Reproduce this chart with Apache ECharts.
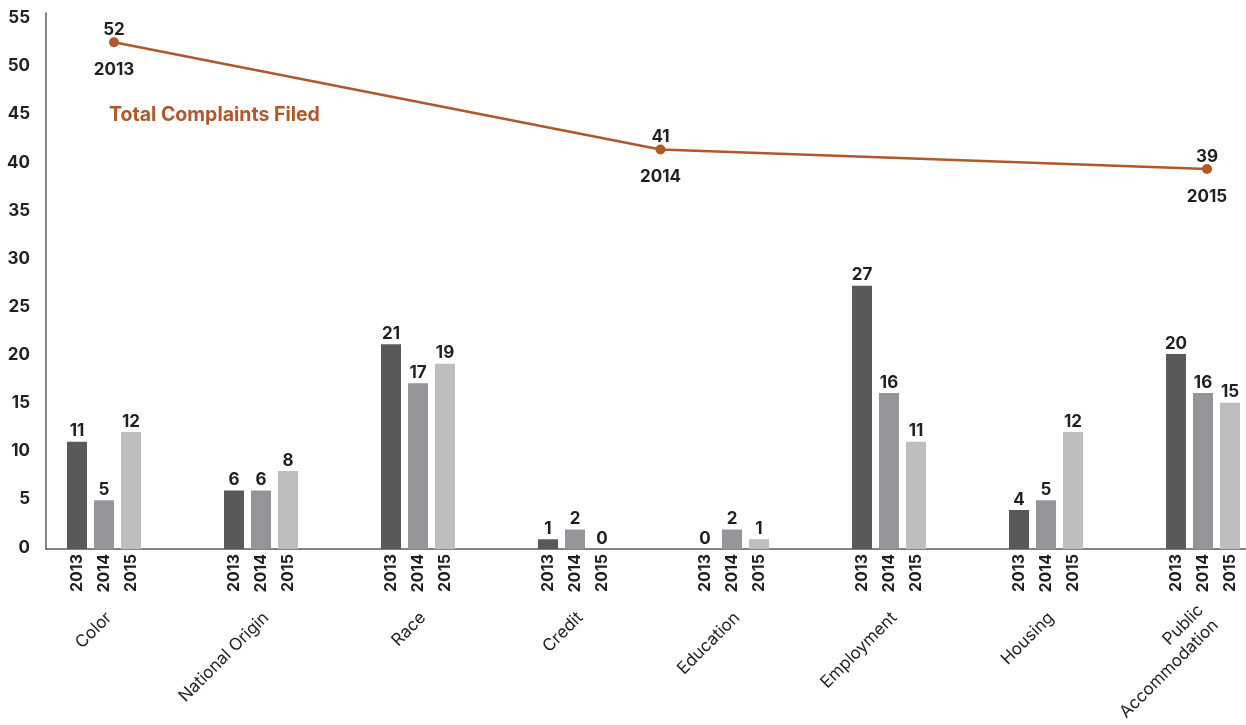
<!DOCTYPE html>
<html>
<head>
<meta charset="utf-8">
<script src="https://cdn.jsdelivr.net/npm/echarts@6/dist/echarts.min.js"></script>
<style>
  html, body { margin: 0; padding: 0; background: #fff; }
  #chart { width: 1246px; height: 725px; }
</style>
</head>
<body>
<div id="chart"></div>
<script>
const categories = ['Color', 'National Origin', 'Race', 'Credit', 'Education', 'Employment', 'Housing', 'Public\nAccommodation'];
const years = ['2013', '2014', '2015'];
const values2013 = [11, 6, 21, 1, 0, 27, 4, 20];
const values2014 = [5, 6, 17, 2, 2, 16, 5, 16];
const values2015 = [12, 8, 19, 0, 1, 11, 12, 15];
const totalComplaints = [52, 41, 39];
const yTicks = { min: 0, max: 55, interval: 5 };

const barColors = ['#58595B', '#939598', '#BCBEC0'];
const rust = '#B0582A';
const dark = '#231F20';
const numFont = 'Inter, "DejaVu Sans", sans-serif';

const chart = echarts.init(document.getElementById('chart'));

const seriesValues = [values2013, values2014, values2015];
const barSeries = seriesValues.map((vals, i) => ({
  type: 'bar',
  name: years[i],
  xAxisIndex: 0, yAxisIndex: 0,
  data: vals,
  barWidth: 20,
  barGap: '35%',
  itemStyle: { color: barColors[i] },
  label: {
    show: true, position: 'top', distance: 2,
    color: dark, fontFamily: numFont, fontWeight: 700, fontSize: 17
  },
  silent: true
}));
const yearLabelSeries = seriesValues.map((vals, i) => ({
  type: 'bar',
  name: years[i] + '-label',
  xAxisIndex: 1, yAxisIndex: 0,
  data: vals,
  barWidth: 20,
  barGap: '35%',
  itemStyle: { color: 'rgba(0,0,0,0)' },
  label: {
    show: true, position: 'bottom', distance: 5,
    rotate: 90, align: 'right', verticalAlign: 'middle',
    formatter: () => years[i],
    color: dark, fontFamily: numFont, fontWeight: 700, fontSize: 16
  },
  silent: true
}));

const gridBase = { top: 13, height: 536, outerBoundsMode: 'none', containLabel: false };

const option = {
  backgroundColor: '#fff',
  animation: false,
  title: {
    text: 'Total Complaints Filed',
    left: 104, top: 100,
    textStyle: { color: rust, fontFamily: numFont, fontWeight: 700, fontSize: 19.5 }
  },
  grid: [
    Object.assign({}, gridBase, { left: 25.5, width: 1256 }),
    Object.assign({}, gridBase, { left: 114, width: 1093 }),
    Object.assign({}, gridBase, { left: 46, width: 1200 }),
    Object.assign({}, gridBase, { left: 30.5, width: 1256 }),
    Object.assign({}, gridBase, { left: 46, width: 1200, top: 18, height: 529.5 })
  ],
  xAxis: [
    { type: 'category', gridIndex: 0, data: categories, show: false },
    { type: 'category', gridIndex: 0, data: categories, show: false },
    { type: 'category', gridIndex: 1, data: years, boundaryGap: false, show: false },
    { type: 'value', gridIndex: 2, min: 0, max: 1,
      axisLine: { show: true, onZero: false, lineStyle: { color: '#58595B', width: 1.5 } },
      axisTick: { show: false }, axisLabel: { show: false }, splitLine: { show: false } },
    { type: 'category', gridIndex: 3, data: categories,
      axisLine: { show: false }, axisTick: { show: false }, splitLine: { show: false },
      axisLabel: { rotate: 45, margin: 66, fontSize: 17, color: dark,
        fontFamily: 'Inter, "Open Sans", sans-serif', lineHeight: 21, interval: 0 } },
    { type: 'value', gridIndex: 4, show: false }
  ],
  yAxis: [
    { type: 'value', gridIndex: 0, min: yTicks.min, max: yTicks.max, interval: yTicks.interval, show: false },
    { type: 'value', gridIndex: 1, min: yTicks.min, max: yTicks.max, interval: yTicks.interval, show: false },
    { type: 'value', gridIndex: 2, min: yTicks.min, max: yTicks.max, interval: yTicks.interval,
      axisLine: { show: true, lineStyle: { color: '#58595B', width: 1.5 } },
      axisTick: { show: false }, splitLine: { show: false }, axisLabel: { show: false } },
    { type: 'value', gridIndex: 3, min: yTicks.min, max: yTicks.max, show: false },
    { type: 'value', gridIndex: 4, min: yTicks.min, max: yTicks.max, interval: yTicks.interval,
      axisLine: { show: false }, axisTick: { show: false }, splitLine: { show: false },
      axisLabel: { margin: 16, color: dark, fontFamily: numFont, fontWeight: 700, fontSize: 17 } }
  ],
  series: [
    ...barSeries,
    ...yearLabelSeries,
    {
      type: 'line', name: 'Total Complaints Filed',
      xAxisIndex: 2, yAxisIndex: 1,
      data: totalComplaints,
      symbol: 'circle', symbolSize: 10,
      lineStyle: { color: rust, width: 2.5 },
      itemStyle: { color: rust },
      label: { show: true, position: 'top', distance: -1,
        color: dark, fontFamily: numFont, fontWeight: 700, fontSize: 17 },
      silent: true, z: 5
    },
    {
      type: 'line', name: 'year-labels',
      xAxisIndex: 2, yAxisIndex: 1,
      data: totalComplaints,
      symbol: 'circle', symbolSize: 10,
      lineStyle: { width: 0, opacity: 0 },
      itemStyle: { color: 'rgba(0,0,0,0)' },
      label: { show: true, position: 'bottom', distance: 14,
        formatter: (p) => years[p.dataIndex],
        color: dark, fontFamily: numFont, fontWeight: 700, fontSize: 17 },
      silent: true, z: 5
    }
  ]
};
chart.setOption(option);
</script>
</body>
</html>
